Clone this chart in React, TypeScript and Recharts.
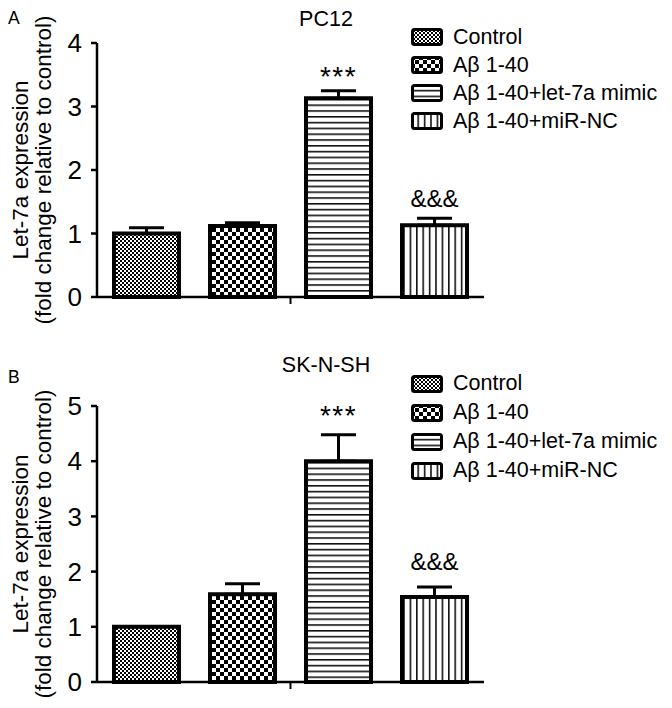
import React from 'react';
import { BarChart, Bar, XAxis, YAxis, ErrorBar, Legend } from 'recharts';

// one x category, four groups per panel
const GROUPS = ['Control', 'Aβ 1-40', 'Aβ 1-40+let-7a mimic', 'Aβ 1-40+miR-NC'];
const KEYS = ['control', 'abeta', 'mimic', 'mirnc'];
const PATTERNS = ['pat-fine', 'pat-check', 'pat-hlines', 'pat-vlines'];
const MARKS = ['', '', '***', '&&&'];

const PC12_MEANS = [1.0, 1.12, 3.13, 1.13];
const PC12_ERRORS = [0.09, 0.05, 0.12, 0.11];
const PC12_TICKS = [0, 1, 2, 3, 4];

const SKNSH_MEANS = [1.0, 1.59, 4.0, 1.54];
const SKNSH_ERRORS = [0, 0.19, 0.48, 0.18];
const SKNSH_TICKS = [0, 1, 2, 3, 4, 5];

const FONT = '"Liberation Sans", Arial, sans-serif';

function buildRow(means: number[], errors: number[]) {
  const row: Record<string, any> = { name: 'all' };
  KEYS.forEach((k, i) => {
    row[k] = means[i];
    row[k + 'Err'] = [0, errors[i]];
  });
  return row;
}

function PatternDefs() {
  return (
    <svg width={0} height={0} style={{ position: 'absolute' }}>
      <defs>
        <pattern id="pat-fine" width={4} height={4} patternUnits="userSpaceOnUse">
          <rect width={4} height={4} fill="#fff" />
          <rect x={0} y={0} width={2} height={2} fill="#000" />
          <rect x={2} y={2} width={2} height={2} fill="#000" />
        </pattern>
        <pattern id="pat-check" width={8} height={8} patternUnits="userSpaceOnUse">
          <rect width={8} height={8} fill="#fff" />
          <rect x={0} y={0} width={4} height={4} fill="#000" />
          <rect x={4} y={4} width={4} height={4} fill="#000" />
        </pattern>
        <pattern id="pat-hlines" width={8} height={5.8} patternUnits="userSpaceOnUse">
          <rect width={8} height={5.8} fill="#fff" />
          <rect x={0} y={0} width={8} height={1.6} fill="#111" />
        </pattern>
        <pattern id="pat-vlines" width={6.4} height={8} patternUnits="userSpaceOnUse">
          <rect width={6.4} height={8} fill="#fff" />
          <rect x={0} y={0} width={1.6} height={8} fill="#111" />
        </pattern>
      </defs>
    </svg>
  );
}

function YLabel(props: any) {
  const { x, y, height } = props.viewBox;
  const cy = y + height / 2;
  return (
    <g fontFamily={FONT} fontSize={22.5} fill="#000">
      <text x={x + 28} y={cy} textAnchor="middle" transform={`rotate(-90, ${x + 28}, ${cy})`}>
        Let-7a expression
      </text>
      <text x={x + 51} y={cy} textAnchor="middle" transform={`rotate(-90, ${x + 51}, ${cy})`}>
        (fold change relative to control)
      </text>
    </g>
  );
}

function makeMark(i: number, errors: number[], gap: number) {
  return (props: any) => {
    const { x, y, width, height, value } = props;
    if (!MARKS[i] || !value) return null;
    const errTop = y - (errors[i] * height) / value;
    const stars = MARKS[i] === '***';
    return (
      <text
        x={x + width / 2}
        y={errTop - gap}
        textAnchor="middle"
        fontFamily={FONT}
        fontSize={stars ? 28 : 24}
        letterSpacing={stars ? 1.5 : 0}
        fill="#000"
      >
        {MARKS[i]}
      </text>
    );
  };
}

function LegendBox({ rowHeight }: { rowHeight: number }) {
  return (
    <div style={{ fontFamily: FONT, fontSize: 21.5, color: '#000' }}>
      {GROUPS.map((g, i) => (
        <div key={g} style={{ display: 'flex', alignItems: 'center', height: rowHeight, whiteSpace: 'nowrap' }}>
          <svg width={32} height={18} style={{ marginRight: 10 }}>
            <rect x={1.5} y={1.5} width={29} height={15} rx={2} fill={`url(#${PATTERNS[i]})`} stroke="#000" strokeWidth={3} />
          </svg>
          <span>{g}</span>
        </div>
      ))}
    </div>
  );
}

interface PanelProps {
  letter: string;
  title: string;
  means: number[];
  errors: number[];
  ticks: number[];
  height: number;
  top: number;
  bottom: number;
  titleY: number;
  letterY: number;
  legendTop: number;
  rowHeight: number;
  starGap: number;
  ampGap: number;
}

function Panel(p: PanelProps) {
  const data = [buildRow(p.means, p.errors)];
  const max = p.ticks[p.ticks.length - 1];
  return (
    <div style={{ position: 'relative', width: 672, height: p.height }}>
      <BarChart
        width={672}
        height={p.height}
        data={data}
        margin={{ top: p.top, right: 188, left: 0, bottom: 0 }}
        barGap={31}
        barSize={65}
      >
        <XAxis
          dataKey="name"
          height={p.bottom}
          tickFormatter={() => ''}
          tickSize={7}
          axisLine={{ stroke: '#000', strokeWidth: 2.5 }}
          tickLine={{ stroke: '#000', strokeWidth: 2 }}
        />
        <YAxis
          width={97}
          domain={[0, max]}
          ticks={p.ticks}
          interval={0}
          tickSize={6}
          tickMargin={9}
          axisLine={{ stroke: '#000', strokeWidth: 2.5 }}
          tickLine={{ stroke: '#000', strokeWidth: 2.5 }}
          tick={{ fill: '#000', fontSize: 26, fontFamily: FONT }}
          label={{ content: YLabel }}
        />
        <Legend
          layout="horizontal"
          verticalAlign="middle"
          align="center"
          wrapperStyle={{ left: 411, top: p.legendTop, width: 'auto' }}
          content={() => <LegendBox rowHeight={p.rowHeight} />}
        />
        {KEYS.map((k, i) => (
          <Bar
            key={k}
            dataKey={k}
            name={GROUPS[i]}
            fill={`url(#${PATTERNS[i]})`}
            stroke="#000"
            strokeWidth={4}
            isAnimationActive={false}
            label={makeMark(i, p.errors, MARKS[i] === '***' ? p.starGap : p.ampGap)}
          >
            <ErrorBar dataKey={k + 'Err'} width={17.5} stroke="#000" strokeWidth={3} direction="y" />
          </Bar>
        ))}
      </BarChart>
      <svg width={672} height={p.height} style={{ position: 'absolute', left: 0, top: 0, pointerEvents: 'none' }}>
        <text x={8} y={p.letterY} fontFamily={FONT} fontSize={17.5} fill="#000">
          {p.letter}
        </text>
        <text x={326} y={p.titleY} textAnchor="middle" fontFamily={FONT} fontSize={21.5} fill="#000">
          {p.title}
        </text>
      </svg>
    </div>
  );
}

export default function App() {
  return (
    <div style={{ position: 'absolute', left: 0, top: 0, width: 672, height: 708, background: '#fff' }}>
      <PatternDefs />
      <Panel
        letter="A"
        title="PC12"
        means={PC12_MEANS}
        errors={PC12_ERRORS}
        ticks={PC12_TICKS}
        height={340}
        top={43}
        bottom={43}
        titleY={26}
        letterY={24}
        legendTop={23}
        rowHeight={28}
        starGap={5}
        ampGap={11}
      />
      <Panel
        letter="B"
        title="SK-N-SH"
        means={SKNSH_MEANS}
        errors={SKNSH_ERRORS}
        ticks={SKNSH_TICKS}
        height={368}
        top={66}
        bottom={26}
        titleY={32}
        letterY={43}
        legendTop={29}
        rowHeight={29}
        starGap={10}
        ampGap={17}
      />
    </div>
  );
}
